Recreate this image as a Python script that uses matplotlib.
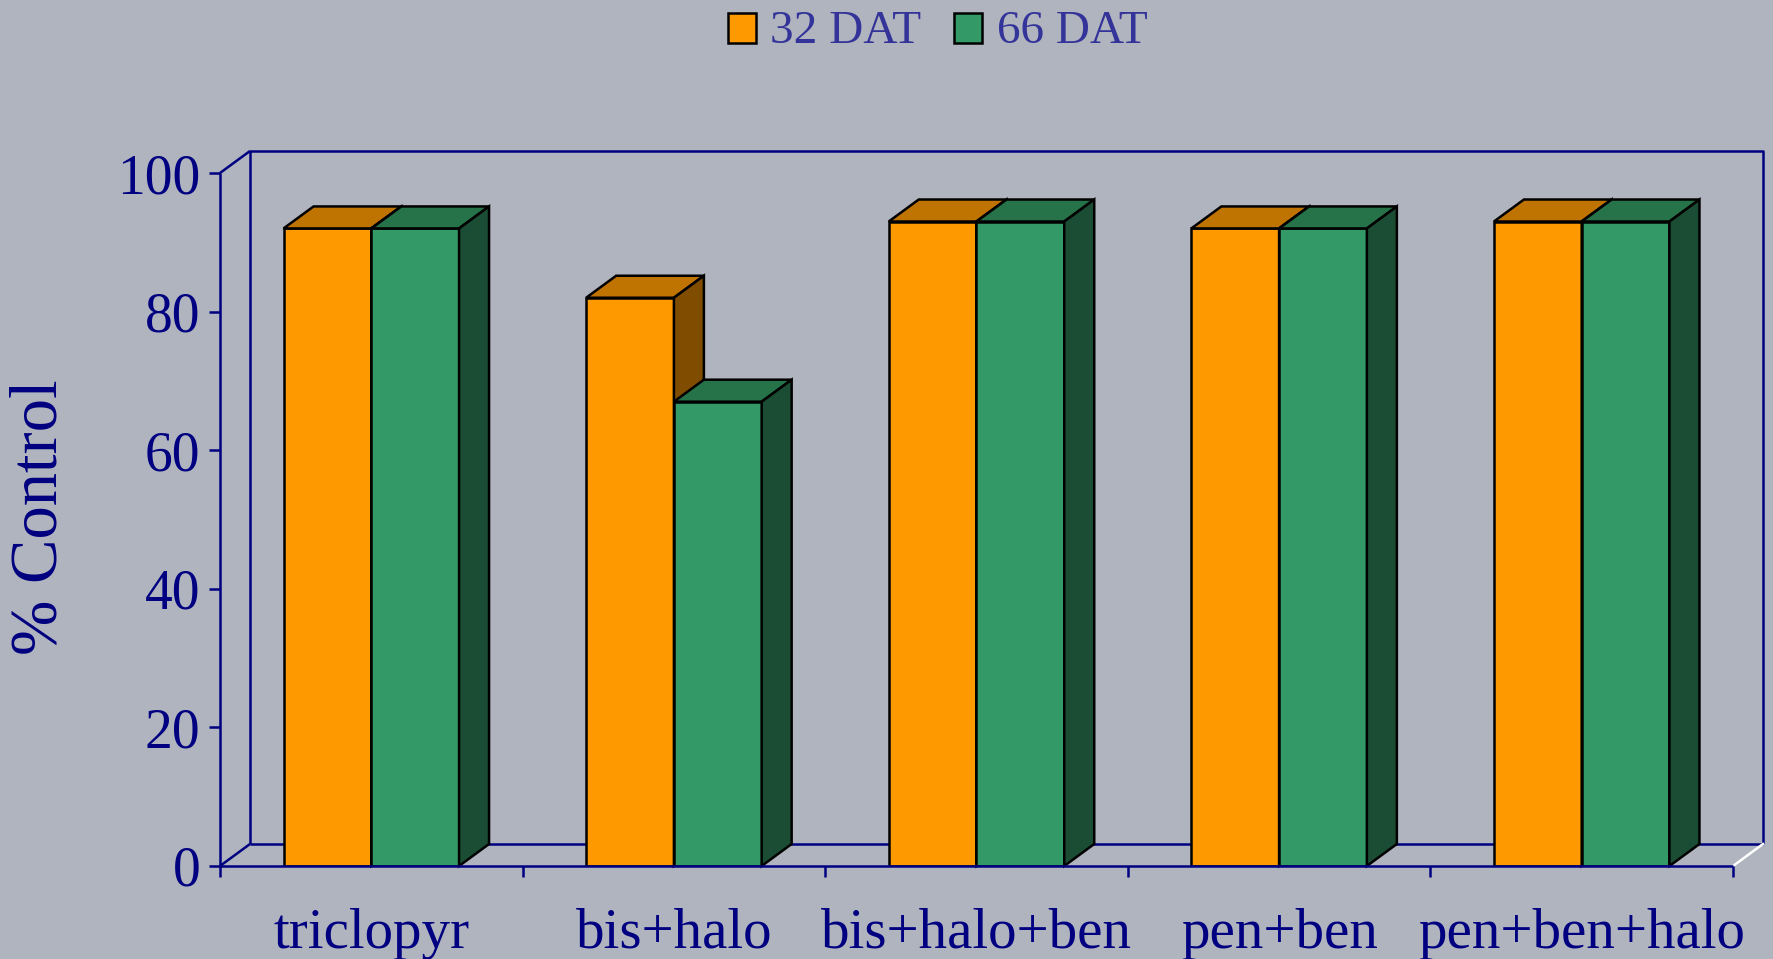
import matplotlib.pyplot as plt
from matplotlib.patches import Polygon, Rectangle

# ---------------------------------------------------------
# data
# ---------------------------------------------------------
categories = ['triclopyr', 'bis+halo', 'bis+halo+ben', 'pen+ben', 'pen+ben+halo']
dat32 = [92, 82, 93, 92, 93]
dat66 = [92, 67, 93, 92, 93]
series_names = ['32 DAT', '66 DAT']

# ---------------------------------------------------------
# style
# ---------------------------------------------------------
bg = '#B0B4BE'
navy = '#000080'
legend_col = '#333399'
orange = ('#FF9900', '#BF7300', '#7F4C00')   # front, top, side
green = ('#339966', '#267349', '#1A4D33')
plt.rcParams['font.family'] = ['Liberation Serif', 'DejaVu Serif']

W, H = 1773, 959
fig = plt.figure(figsize=(W / 100, H / 100), dpi=100)
fig.patch.set_facecolor(bg)

# front plane of the 3d box (pixel measurements from the reference)
x0, x1, y0, y1 = 220, 1733, 173, 866
ax = fig.add_axes([x0 / W, 1 - y1 / H, (x1 - x0) / W, (y1 - y0) / H])
ax.set_facecolor('none')
ax.set_xlim(0, len(categories))
ax.set_ylim(0, 100)
for s in ax.spines.values():
    s.set_visible(False)

dx = 30 / ((x1 - x0) / len(categories))   # depth offset in data units
dy = 22 / ((y1 - y0) / 100)
bw = 0.29
lw = 1.8


def bar3d(x, h, cols, z):
    front, top, side = cols
    ax.bar(x, h, width=bw, align='edge', color=front, edgecolor='black',
           linewidth=lw, zorder=z)
    ax.add_patch(Polygon([(x, h), (x + bw, h), (x + bw + dx, h + dy), (x + dx, h + dy)],
                         closed=True, facecolor=top, edgecolor='black',
                         linewidth=lw, zorder=z, clip_on=False, joinstyle='miter'))
    ax.add_patch(Polygon([(x + bw, 0), (x + bw + dx, dy), (x + bw + dx, h + dy), (x + bw, h)],
                         closed=True, facecolor=side, edgecolor='black',
                         linewidth=lw, zorder=z, clip_on=False, joinstyle='miter'))


n = len(categories)
for i in range(n):
    c = i + 0.5
    bar3d(c - bw, dat32[i], orange, 3 + 2 * i)
    bar3d(c, dat66[i], green, 4 + 2 * i)

# box walls
kw = dict(color=navy, linewidth=1.8, clip_on=False, solid_capstyle='butt')
ax.plot([dx, dx, n + dx, n + dx], [dy, 100 + dy, 100 + dy, dy], zorder=1, **kw)
ax.plot([dx, n + dx], [dy, dy], zorder=1, **kw)
ax.plot([0, dx], [100, 100 + dy], zorder=1, **kw)
ax.plot([0, dx], [0, dy], zorder=1, **kw)
ax.plot([0, 0], [0, 100], zorder=20, **kw)
ax.plot([0, n], [0, 0], zorder=20, **kw)
ax.plot([n, n + dx], [0, dy], color='white', linewidth=1.8, clip_on=False, zorder=1)

# ticks
ax.set_yticks(range(0, 101, 20))
ax.tick_params(axis='y', colors=navy, labelsize=40, length=8, width=1.8,
               direction='out', pad=6)
ax.set_xticks(range(n + 1))
ax.set_xticklabels([])
ax.set_xticks([i + 0.5 for i in range(n)], minor=True)
ax.set_xticklabels(categories, minor=True)
ax.tick_params(axis='x', which='major', colors=navy, length=8, width=1.8, direction='out')
ax.tick_params(axis='x', which='minor', length=0, labelsize=41, labelcolor=navy, pad=30)

fig.text(40 / W, 1 - 517 / H, '% Control', rotation=90, ha='center', va='center',
         fontsize=48, color=navy)

# legend
for (lx, tx), name, col in zip([(728, 770), (954, 997)], series_names, [orange[0], green[0]]):
    fig.patches.append(Rectangle((lx / W, 1 - 43 / H), 28 / W, 30 / H,
                                 transform=fig.transFigure, facecolor=col,
                                 edgecolor='black', linewidth=1.8))
    fig.text(tx / W, 1 - 43 / H, name, ha='left', va='baseline', fontsize=34,
             color=legend_col)

fig.savefig('out.png', dpi=100, facecolor=bg)
